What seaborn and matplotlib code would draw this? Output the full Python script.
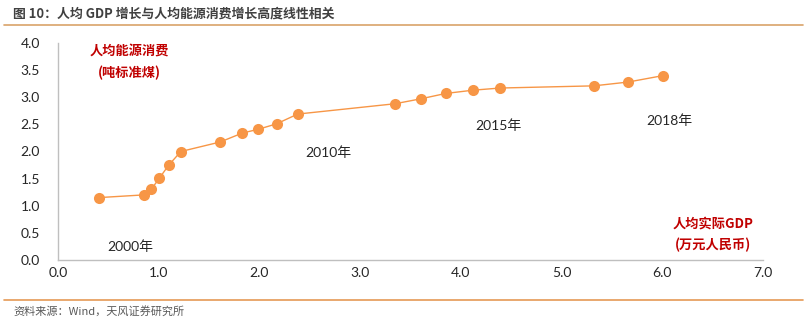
import matplotlib
matplotlib.use("Agg")
import matplotlib.pyplot as plt
import seaborn as sns
import pandas as pd
from matplotlib.lines import Line2D

# ---- data ----
gdp = [0.405, 0.851, 0.925, 1.007, 1.10, 1.22, 1.61, 1.83, 1.99, 2.17, 2.38,
       3.345, 3.60, 3.85, 4.12, 4.39, 5.32, 5.66, 6.01]
energy = [1.15, 1.20, 1.30, 1.51, 1.75, 2.00, 2.175, 2.34, 2.41, 2.51, 2.69,
          2.88, 2.97, 3.07, 3.13, 3.17, 3.21, 3.28, 3.40]
year_labels = ["2000年", "2010年", "2015年", "2018年"]
xticks = [0.0, 1.0, 2.0, 3.0, 4.0, 5.0, 6.0, 7.0]
yticks = [0.0, 0.5, 1.0, 1.5, 2.0, 2.5, 3.0, 3.5, 4.0]

title = "图 10：人均 GDP 增长与人均能源消费增长高度线性相关"
source = "资料来源：Wind，天风证券研究所"
ylab = ["人均能源消费", "(吨标准煤)"]
xlab = ["人均实际GDP", "(万元人民币)"]

df = pd.DataFrame({"gdp": gdp, "energy": energy})

sns.set_theme(style="white")
plt.rcParams["font.family"] = ["Lato", "Noto Sans CJK SC", "DejaVu Sans"]

W, H = 807, 322
fig = plt.figure(figsize=(W / 100, H / 100), dpi=100)
ax = fig.add_axes([58 / W, 1 - 260 / H, (763 - 58) / W, (260 - 43) / H])

orange = "#F79646"
sns.lineplot(data=df, x="gdp", y="energy", ax=ax, color=orange, linewidth=1.0,
             marker="o", markersize=8, markeredgewidth=0, sort=False)

ax.set_xlim(0, 7)
ax.set_ylim(0, 4)
ax.set_xticks(xticks)
ax.set_yticks(yticks)
ax.set_xticklabels([f"{v:.1f}" for v in xticks])
ax.set_yticklabels([f"{v:.1f}" for v in yticks])
ax.set_xlabel("")
ax.set_ylabel("")
ax.tick_params(axis="both", length=0, labelsize=10, colors="#262626")
ax.tick_params(axis="x", pad=5)
ax.tick_params(axis="y", pad=13)
for s in ["top", "right"]:
    ax.spines[s].set_visible(False)
for s in ["left", "bottom"]:
    ax.spines[s].set_color("#BFBFBF")
    ax.spines[s].set_linewidth(1.0)
ax.grid(False)

# year annotations
ypos = [(0.72, 0.24), (2.68, 1.97), (4.37, 2.47), (6.07, 2.56)]
for lab, (xx, yy) in zip(year_labels, ypos):
    ax.text(xx, yy, lab, ha="center", va="center", fontsize=10, color="#262626",
            family=["Lato", "Noto Sans CJK SC"])

red = "#C00000"
ax.text(0.71, 3.85, ylab[0], ha="center", va="center", fontsize=9.5, color=red,
        fontweight="bold", family=["Noto Sans CJK SC"])
ax.text(0.71, 3.45, ylab[1], ha="center", va="center", fontsize=9.5, color=red,
        fontweight="bold", family=["Noto Sans CJK SC"])
ax.text(6.50, 0.68, xlab[0], ha="center", va="center", fontsize=9.5, color=red,
        fontweight="bold", family=["Noto Sans CJK SC"])
ax.text(6.50, 0.28, xlab[1], ha="center", va="center", fontsize=9.5, color=red,
        fontweight="bold", family=["Noto Sans CJK SC"])

# title, rules and source
fig.text(13 / W, 1 - 14 / H, title, ha="left", va="center", fontsize=9.3,
         fontweight="bold", color="#404040", family=["Noto Sans CJK SC"])
fig.add_artist(Line2D([4 / W, 803 / W], [1 - 25 / H, 1 - 25 / H],
                      color="#D9A36A", linewidth=1.2, transform=fig.transFigure))
fig.add_artist(Line2D([4 / W, 803 / W], [1 - 300 / H, 1 - 300 / H],
                      color="#E59A55", linewidth=1.2, transform=fig.transFigure))
fig.text(13 / W, 1 - 311 / H, source, ha="left", va="center", fontsize=8,
         color="#595959", family=["Noto Sans CJK SC"])

fig.savefig("out.png", dpi=100)
